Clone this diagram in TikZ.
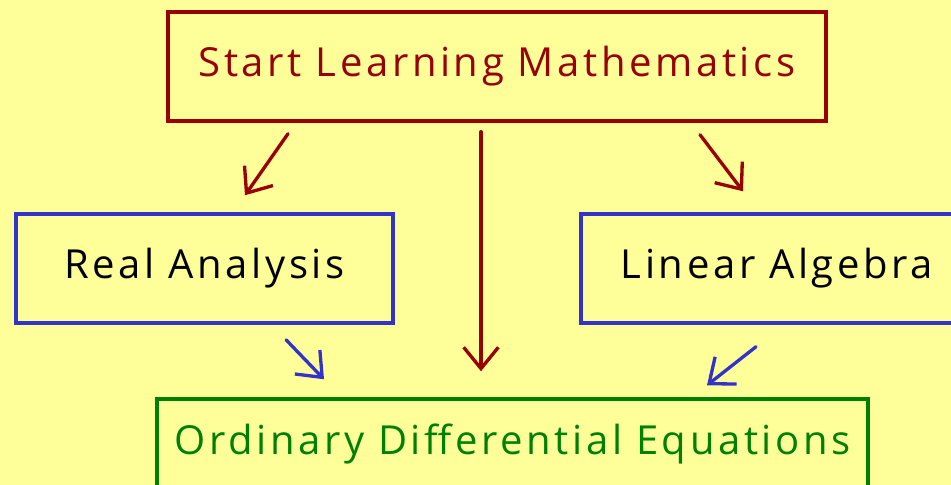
\documentclass[tikz,border=0pt]{standalone}
\usepackage{fontspec}
\setmainfont{Open Sans}[LetterSpace=9]
\usetikzlibrary{arrows.meta,calc}

\definecolor{paper}{HTML}{FFFF99}
\definecolor{mathred}{HTML}{990000}
\definecolor{mathblue}{HTML}{3333CC}
\definecolor{mathgreen}{HTML}{008000}

\begin{document}
\begin{tikzpicture}[x=0.75pt,y=-0.75pt,>={Straight Barb[length=16pt,width=26pt]}]
  \tikzstyle{box}=[draw,line width=2.6pt,inner sep=0pt,font=\fontsize{30}{34}\selectfont]
  \tikzstyle{link}=[line width=2.5pt,->,line cap=round]
  \fill[paper] (0,0) rectangle (951,485);
  \useasboundingbox (0,0) rectangle (951,485);
  \node[box,mathred,minimum width=493.5pt,minimum height=81.75pt] (start) at (497,66.5) {Start Learning Mathematics};
  \node[box,draw=mathblue,minimum width=282.75pt,minimum height=81.75pt] (real) at (204.5,268.5) {Real Analysis};
  \node[box,draw=mathblue,minimum width=294pt,minimum height=81.75pt] (linear) at (777,268.5) {Linear Algebra};
  \node[box,mathgreen,minimum width=533.25pt,minimum height=67.5pt] (ode) at (512.5,444) {Ordinary Differential Equations};
  \draw[link,mathred] ($(start.south)+(-209,11)$) -- ($(real.north)+(40.5,-17)$);
  \draw[link,mathred] ($(start.south)+(-16,9)$) -- ($(ode.north)+(-31.5,-26)$);
  \draw[link,mathred] ($(start.south)+(203,12)$) -- ($(linear.north)+(-34,-21)$);
  \draw[link,mathblue] ($(real.south)+(81.5,15)$) -- ($(ode.north)+(-188.5,-18)$);
  \draw[link,mathblue] ($(linear.south)+(-21,22)$) -- ($(ode.north)+(194.5,-12)$);
\end{tikzpicture}
\end{document}
